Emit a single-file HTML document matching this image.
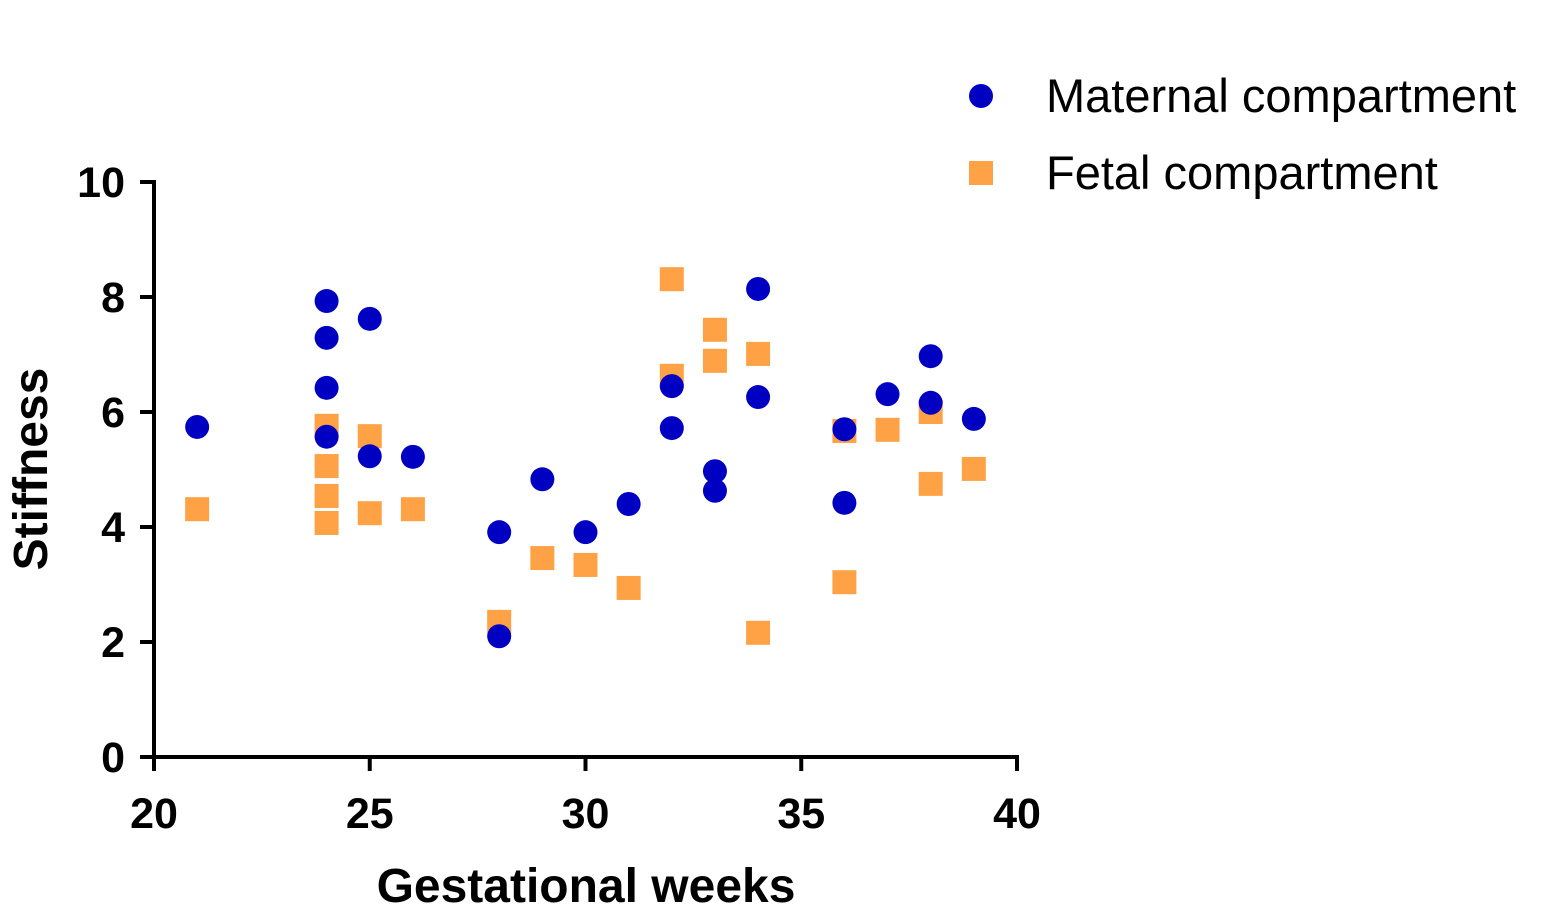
<!DOCTYPE html>
<html><head><meta charset="utf-8"><style>
html,body{margin:0;padding:0;background:#fff;width:1551px;height:918px;overflow:hidden}
svg text{font-family:"Liberation Sans",Arial,sans-serif}
</style></head><body>
<svg id="chart" width="1551" height="918" xmlns="http://www.w3.org/2000/svg">
<g id="axes"></g><g id="marks"></g>
<g>
<circle cx="981" cy="96" r="12" fill="#0000C2"/>
<text x="1046" y="112" font-size="47">Maternal compartment</text>
<rect x="969" y="161" width="24" height="24" fill="#FFA245"/>
<text x="1046" y="189" font-size="47">Fetal compartment</text>
</g>
<text x="586" y="902" font-size="48" font-weight="bold" text-anchor="middle">Gestational weeks</text>
<text transform="translate(47,469) rotate(-90)" font-size="48" font-weight="bold" text-anchor="middle">Stiffness</text>
</svg>
<script>
const maternalX=[21,24,24,24,24,25,25,26,28,28,29,30,31,32,32,33,33,34,34,36,36,37,38,38,39];
const maternalY=[5.74,7.93,7.29,6.42,5.57,7.62,5.23,5.22,3.91,2.10,4.83,3.91,4.40,6.45,5.72,4.97,4.63,8.14,6.26,5.70,4.42,6.31,6.97,6.16,5.88];
const fetalX=[21,24,24,24,24,25,25,26,28,29,30,31,32,32,33,33,34,34,36,36,37,38,38,39];
const fetalY=[4.31,5.76,5.06,4.54,4.07,5.58,4.24,4.31,2.35,3.46,3.34,2.94,8.31,6.63,7.43,6.89,7.01,2.16,5.67,3.04,5.69,6.00,4.75,5.01];
const xTicks=[20,25,30,35,40];
const yTicks=[0,2,4,6,8,10];
const NS="http://www.w3.org/2000/svg";
function sx(v){return 154+(v-20)*(1017-154)/20;}
function sy(v){return 757-v*(757-182)/10;}
function mk(t,a,p){const e=document.createElementNS(NS,t);for(const k in a)e.setAttribute(k,a[k]);p.appendChild(e);return e;}
const ax=document.getElementById('axes'),mg=document.getElementById('marks');
let l=mk('line',{x1:154,y1:sy(10)-2,x2:154,y2:757+2,stroke:'#000','stroke-width':4},ax);


l=mk('line',{x1:152,y1:757,x2:1019,y2:757,stroke:'#000','stroke-width':4},ax);


yTicks.forEach(v=>{
 const t=mk('line',{x1:140,y1:sy(v),x2:154,y2:sy(v),stroke:'#000','stroke-width':4},ax);
 
 
 const tx=mk('text',{x:125,y:sy(v)+15,'font-size':43,'font-weight':'bold','text-anchor':'end'},ax);
 tx.textContent=v;
 
 
});
xTicks.forEach(v=>{
 const t=mk('line',{x1:sx(v),y1:757,x2:sx(v),y2:771,stroke:'#000','stroke-width':4},ax);
 
 
 const tx=mk('text',{x:sx(v),y:828,'font-size':43,'font-weight':'bold','text-anchor':'middle'},ax);
 tx.textContent=v;
 
 
});
fetalX.forEach((x,i)=>{
 const r=mk('rect',{x:sx(x)-12,y:sy(fetalY[i])-12,width:24,height:24,fill:'#FFA245'},mg);
 
 
});
maternalX.forEach((x,i)=>{
 const c=mk('circle',{cx:sx(x),cy:sy(maternalY[i]),r:12,fill:'#0000C2'},mg);
 
 
});
</script>
</body></html>
